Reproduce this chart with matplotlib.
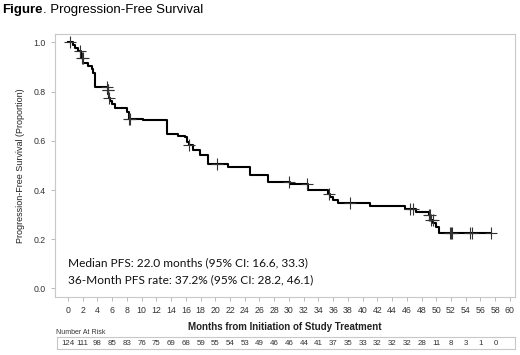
import numpy as np
import matplotlib.pyplot as plt

# Kaplan-Meier step points (months, proportion)
event_months = [0, 0.7, 1.0, 1.3, 1.8, 2.1, 2.7, 3.2, 3.45, 3.7, 5.4, 5.5, 5.6, 5.75,
                5.95, 6.4, 7.95, 8.25, 10.2, 13.4, 15.0, 15.9, 16.2, 16.4, 17.0, 17.9,
                19.0, 21.75, 24.7, 27.2, 30.2, 32.6, 35.3, 35.6, 36.0, 36.7, 41.0, 45.7,
                47.3, 49.0, 49.2, 49.6, 50.0, 50.4]
pfs = [1.0, 0.99, 0.976, 0.966, 0.935, 0.915, 0.903, 0.89, 0.874, 0.82, 0.806, 0.79,
       0.776, 0.762, 0.75, 0.732, 0.718, 0.69, 0.684, 0.627, 0.62, 0.614, 0.595, 0.583,
       0.562, 0.542, 0.505, 0.495, 0.46, 0.432, 0.423, 0.402, 0.385, 0.372, 0.359, 0.348,
       0.333, 0.321, 0.31, 0.298, 0.28, 0.264, 0.25, 0.224]
last_followup = 57.5

censor_months = [0.3, 1.6, 1.9, 2.0, 5.3, 5.4, 5.45, 5.6, 8.3, 8.4, 16.4, 20.2, 30.0,
                 32.5, 35.5, 38.3, 46.4, 46.8, 49.0, 49.1, 49.3, 49.5, 51.8, 51.95,
                 52.1, 54.6, 54.9, 57.5]

risk_months = list(range(0, 60, 2))
at_risk = [124, 111, 98, 85, 83, 76, 75, 69, 68, 59, 55, 54, 53, 49, 46, 46, 44, 41,
           37, 35, 33, 32, 32, 32, 28, 11, 8, 3, 1, 0]

plt.rcParams['font.family'] = ['Liberation Sans', 'DejaVu Sans']

fig = plt.figure(figsize=(5.2, 3.55), dpi=100)
ax = fig.add_axes([0.1058, 0.1634, 0.884, 0.7406])

t = event_months + [last_followup]
s = pfs + [pfs[-1]]
ax.step(t, s, where='post', color='black', lw=1.5)

# censor marks sit on the curve
idx = np.searchsorted(event_months, censor_months, side='right') - 1
cens_s = [pfs[i] for i in idx]
ax.plot(censor_months, cens_s, ls='none', marker='+', ms=8, mew=0.8, color='#333333')

ax.set_xlim(-1.76, 60.65)
ax.set_ylim(-0.035, 1.034)
ax.set_xticks(range(0, 61, 2))
ax.set_yticks(np.arange(0, 1.01, 0.2))
ax.set_yticklabels(['0.0', '0.2', '0.4', '0.6', '0.8', '1.0'])
ax.tick_params(labelsize=6.3, colors='#b0b0b0', labelcolor='#333333', length=3, width=0.6)
for sp in ax.spines.values():
    sp.set_color('#c8c8c8')
    sp.set_linewidth(0.8)

ax.set_ylabel('Progression-Free Survival (Proportion)', fontsize=6.5, color='#222222',
              labelpad=6)
ax.set_xlabel('Months from Initiation of Study Treatment', fontsize=7, fontweight='bold',
              color='#222222', labelpad=5)

ax.text(0.0, 0.105, 'Median PFS: 22.0 months (95% CI: 16.6, 33.3)', fontsize=8.6,
        family='Lato', color='#111111', va='center')
ax.text(0.0, 0.035, '36-Month PFS rate: 37.2% (95% CI: 28.2, 46.1)', fontsize=8.6,
        family='Lato', color='#111111', va='center')

# title: bold "Figure" followed directly by the rest
t1 = fig.text(0.005, 0.972, 'Figure', fontsize=9.5, fontweight='bold', va='center')
renderer = fig.canvas.get_renderer()
bb = t1.get_window_extent(renderer=renderer)
fig.text(bb.x1 / fig.bbox.width, 0.972, '. Progression-Free Survival', fontsize=9.5,
         va='center')

# number at risk table
fig.text(0.108, 0.062, 'Number At Risk', fontsize=5, color='#333333', va='center')
rax = fig.add_axes([0.1096, 0.0169, 0.8808, 0.0338])
rax.set_xlim(-1.5, 60.65)
rax.set_ylim(0, 1)
rax.set_xticks([])
rax.set_yticks([])
for sp in rax.spines.values():
    sp.set_color('#c8c8c8')
    sp.set_linewidth(0.8)
for m, n in zip(risk_months, at_risk):
    rax.text(m, 0.45, str(n), fontsize=5.7, ha='center', va='center', color='#333333')

fig.savefig('out.png', dpi=100)
